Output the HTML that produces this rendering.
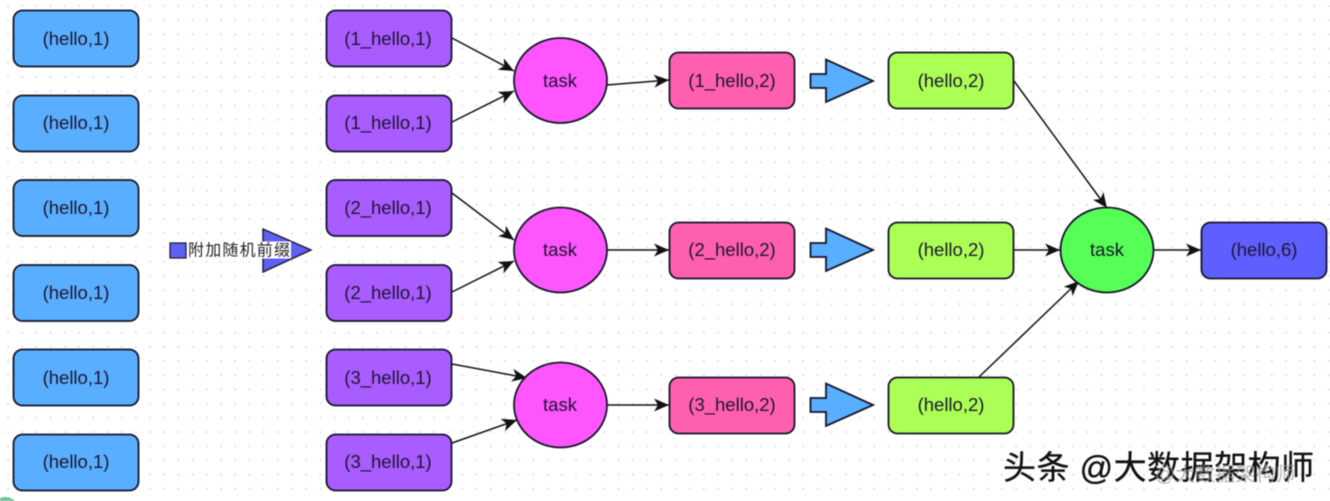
<!DOCTYPE html>
<html>
<head>
<meta charset="utf-8">
<style>
html,body{margin:0;padding:0;background:#fff;width:1330px;height:501px;overflow:hidden}
svg{display:block;filter:blur(.5px)}
text{font-family:"Liberation Sans","Noto Sans CJK SC",sans-serif}
.l{font-size:18.500px;fill:#1c1530;text-anchor:middle}
.b{stroke:#15152a;stroke-width:1.8}
.c{stroke:#111;stroke-width:1.5;fill:none}
</style>
</head>
<body>
<svg width="1330" height="501" viewBox="0 0 1330 501" xmlns="http://www.w3.org/2000/svg">
<defs>
<pattern id="g" x="7" y="5" width="14.2" height="14.2" patternUnits="userSpaceOnUse"><circle cx="1" cy="1" r=".9" fill="#d2d2d2"/></pattern>
<marker id="a" markerUnits="userSpaceOnUse" markerWidth="16" markerHeight="14" refX="15" refY="7" orient="auto"><path d="M0 0.500L15 7L0 13.500L4 7Z" fill="#111"/></marker>
</defs>
<rect width="1330" height="501" fill="#fff"/>
<rect width="1330" height="501" fill="url(#g)"/>

<!-- Connectors -->
<path class="c" marker-end="url(#a)" d="M452 38L514 71"/>
<path class="c" marker-end="url(#a)" d="M452 122L514 91"/>
<path class="c" marker-end="url(#a)" d="M452 193L514 240"/>
<path class="c" marker-end="url(#a)" d="M452 292L514 261"/>
<path class="c" marker-end="url(#a)" d="M452 364L527 378"/>
<path class="c" marker-end="url(#a)" d="M452 443L517 420"/>
<path class="c" marker-end="url(#a)" d="M607 85L669 80"/>
<path class="c" marker-end="url(#a)" d="M607 250L669 250"/>
<path class="c" marker-end="url(#a)" d="M607 405L669 405"/>
<path class="c" marker-end="url(#a)" d="M1014 81L1107 208"/>
<path class="c" marker-end="url(#a)" d="M1014 250L1060 250"/>
<path class="c" marker-end="url(#a)" d="M979 377L1079 281"/>
<path class="c" marker-end="url(#a)" d="M1154 250L1201 250"/>

<!-- Left column -->
<g fill="#5aaeff" class="b">
<rect x="13.500" y="10.500" width="125" height="56" rx="9"/>
<rect x="13.500" y="95.500" width="125" height="56" rx="9"/>
<rect x="13.500" y="180" width="125" height="56" rx="9"/>
<rect x="13.500" y="265" width="125" height="56" rx="9"/>
<rect x="13.500" y="349.500" width="125" height="56" rx="9"/>
<rect x="13.500" y="434.500" width="125" height="56" rx="9"/>
</g>
<g class="l">
<text x="76" y="45">(hello,1)</text>
<text x="76" y="129">(hello,1)</text>
<text x="76" y="214">(hello,1)</text>
<text x="76" y="299">(hello,1)</text>
<text x="76" y="384">(hello,1)</text>
<text x="76" y="468">(hello,1)</text>
</g>

<!-- Prefix arrow -->
<path d="M263 229L311 250L263 272Z" fill="#6060f5" stroke="#17172e" stroke-width="1.4"/>
<rect x="170" y="243" width="16" height="15" fill="#6060f5" stroke="#17172e" stroke-width="1.2"/>
<rect x="187" y="241.500" width="104" height="17" fill="#fff"/>
<text x="188" y="255.500" font-size="16" fill="#222" letter-spacing="1.2">附加随机前缀</text>

<!-- Purple column -->
<g fill="#a95cff" class="b">
<rect x="326.500" y="10.500" width="125" height="56" rx="9"/>
<rect x="326.500" y="95.500" width="125" height="56" rx="9"/>
<rect x="326.500" y="180" width="125" height="56" rx="9"/>
<rect x="326.500" y="265" width="125" height="56" rx="9"/>
<rect x="326.500" y="349.500" width="125" height="56" rx="9"/>
<rect x="326.500" y="434.500" width="125" height="56" rx="9"/>
</g>
<g class="l">
<text x="388" y="45">(1_hello,1)</text>
<text x="388" y="129">(1_hello,1)</text>
<text x="388" y="214">(2_hello,1)</text>
<text x="388" y="299">(2_hello,1)</text>
<text x="388" y="384">(3_hello,1)</text>
<text x="388" y="468">(3_hello,1)</text>
</g>

<!-- Task circles -->
<g fill="#ff55ff" class="b">
<ellipse cx="560.500" cy="80.500" rx="46.500" ry="42.500"/>
<ellipse cx="560.500" cy="250" rx="46.500" ry="42.500"/>
<ellipse cx="560.500" cy="405" rx="46.500" ry="42.500"/>
</g>
<g class="l">
<text x="560" y="87">task</text>
<text x="560" y="256">task</text>
<text x="560" y="411">task</text>
</g>

<!-- Pink -->
<g fill="#ff5fae" class="b">
<rect x="669.500" y="52.500" width="125" height="56" rx="9"/>
<rect x="669.500" y="222.500" width="125" height="56" rx="9"/>
<rect x="669.500" y="377.500" width="125" height="56" rx="9"/>
</g>
<g class="l">
<text x="732" y="87">(1_hello,2)</text>
<text x="732" y="256">(2_hello,2)</text>
<text x="732" y="411">(3_hello,2)</text>
</g>

<!-- Block arrows -->
<g fill="#5aaeff" class="b">
<path d="M810.500 74H826V59.500L873 81L826 102V88H810.500Z"/>
<path d="M810.500 243H826V228.500L873 250L826 271V257H810.500Z"/>
<path d="M810.500 398H826V383.500L873 405L826 426V412H810.500Z"/>
</g>

<!-- Green boxes -->
<g fill="#acff55" class="b">
<rect x="888.500" y="52.500" width="125" height="56" rx="9"/>
<rect x="888.500" y="222.500" width="125" height="56" rx="9"/>
<rect x="888.500" y="377.500" width="125" height="56" rx="9"/>
</g>
<g class="l">
<text x="951" y="87">(hello,2)</text>
<text x="951" y="256">(hello,2)</text>
<text x="951" y="411">(hello,2)</text>
</g>

<!-- Final task -->
<ellipse cx="1107" cy="250" rx="46.500" ry="42.500" fill="#55ff55" class="b"/>
<text class="l" x="1107" y="256">task</text>

<!-- Result -->
<rect x="1201.500" y="222.500" width="125" height="56" rx="9" fill="#5f5fff" class="b"/>
<text class="l" x="1264" y="256">(hello,6)</text>

<!-- Watermark -->
<text x="1003" y="479" font-size="33" fill="#111" letter-spacing=".5" stroke="#111" stroke-width=".3">头条 @大数据架构师</text>
<text x="1155" y="481" font-size="20" fill="#999" opacity=".7">@大数据架构师</text>
<path d="M0 498Q8 495 15 501L0 501Z" fill="#6fbf9a"/>
</svg>
</body>
</html>
